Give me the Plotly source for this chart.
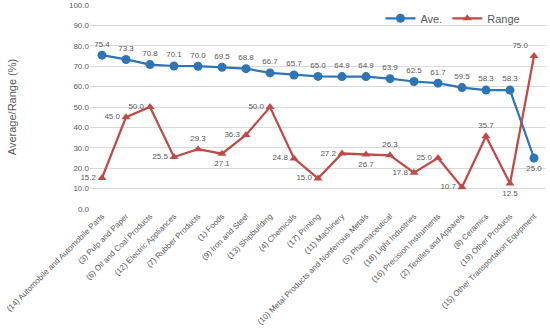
import plotly.graph_objects as go

categories = [
    "(14) Automobile and Automobile Parts", "(3) Pulp and Paper", "(6) Oil and Coal Products",
    "(12) Electric Appliances", "(7) Rubber Products", "(1) Foods", "(9) Iron and Steel",
    "(13) Shipbuilding", "(4) Chemicals", "(17) Printing", "(11) Machinery",
    "(10) Metal Products and Nonferrous Metals", "(5) Pharmaceutical", "(18) Light Industries",
    "(16) Precision Instruments", "(2) Textiles and Apparels", "(8) Ceramics",
    "(19) Other Products", "(15) Other Transportation Equipment",
]
ave = [75.4, 73.3, 70.8, 70.1, 70.0, 69.5, 68.8, 66.7, 65.7, 65.0, 64.9, 64.9, 63.9, 62.5,
       61.7, 59.5, 58.3, 58.3, 25.0]
rng = [15.2, 45.0, 50.0, 25.5, 29.3, 27.1, 36.3, 50.0, 24.8, 15.0, 27.2, 26.7, 26.3, 17.8,
       25.0, 10.7, 35.7, 12.5, 75.0]
y_ticks = [0, 10, 20, 30, 40, 50, 60, 70, 80, 90, 100]

# label placement (style)
ave_pos = ["top center"] * (len(ave) - 1) + ["bottom center"]
rng_pos = ["middle left", "middle left", "middle left", "middle left", "top center",
           "bottom center", "middle left", "middle left", "middle left", "middle left",
           "middle left", "bottom center", "top center", "middle left", "middle left",
           "middle left", "top center", "bottom center", "top left"]

BLUE = "#2E75B6"
RED = "#BE4B48"
GRAY = "#595959"
FONT = "Liberation Sans, Arial, sans-serif"

fig = go.Figure()
fig.add_trace(go.Scatter(
    x=categories, y=ave, name="Ave.", mode="lines+markers+text",
    line=dict(color=BLUE, width=2.25),
    marker=dict(symbol="circle", size=9, color=BLUE),
    text=[f"{v:.1f}" for v in ave], textposition=ave_pos,
    textfont=dict(size=8, color=GRAY, family=FONT),
    cliponaxis=False,
))
fig.add_trace(go.Scatter(
    x=categories, y=rng, name="Range", mode="lines+markers+text",
    line=dict(color=RED, width=2.25),
    marker=dict(symbol="triangle-up", size=8, color=RED),
    text=[f"{v:.1f}" for v in rng], textposition=rng_pos,
    textfont=dict(size=8, color=GRAY, family=FONT),
    cliponaxis=False,
))

fig.update_layout(
    width=550, height=334,
    margin=dict(l=90, r=4, t=5, b=125, autoexpand=False),
    paper_bgcolor="white", plot_bgcolor="white",
    font=dict(family=FONT, color=GRAY),
    showlegend=True,
    legend=dict(orientation="h", x=0.955, xanchor="right", y=0.935, yanchor="middle",
                font=dict(size=11, color=GRAY), bgcolor="rgba(0,0,0,0)",
                itemwidth=30, traceorder="normal"),
    xaxis=dict(type="category", tickangle=-45, tickfont=dict(size=8, color=GRAY),
               showgrid=False, showline=False, ticks="", automargin=False,
               range=[-0.5, len(categories) - 0.5]),
    yaxis=dict(range=[0, 100], tickvals=y_ticks, ticktext=[f"{v:.1f}" for v in y_ticks],
               tickfont=dict(size=8, color=GRAY), showgrid=True, gridcolor="#D9D9D9",
               gridwidth=1, zeroline=False, showline=False, ticks="", automargin=False,
               title=dict(text="Average/Range (%)", font=dict(size=11, color=GRAY),
                          standoff=50)),
)

fig.write_html("out.html", config={"displayModeBar": False},
               post_script="document.body.style.margin='0';")
